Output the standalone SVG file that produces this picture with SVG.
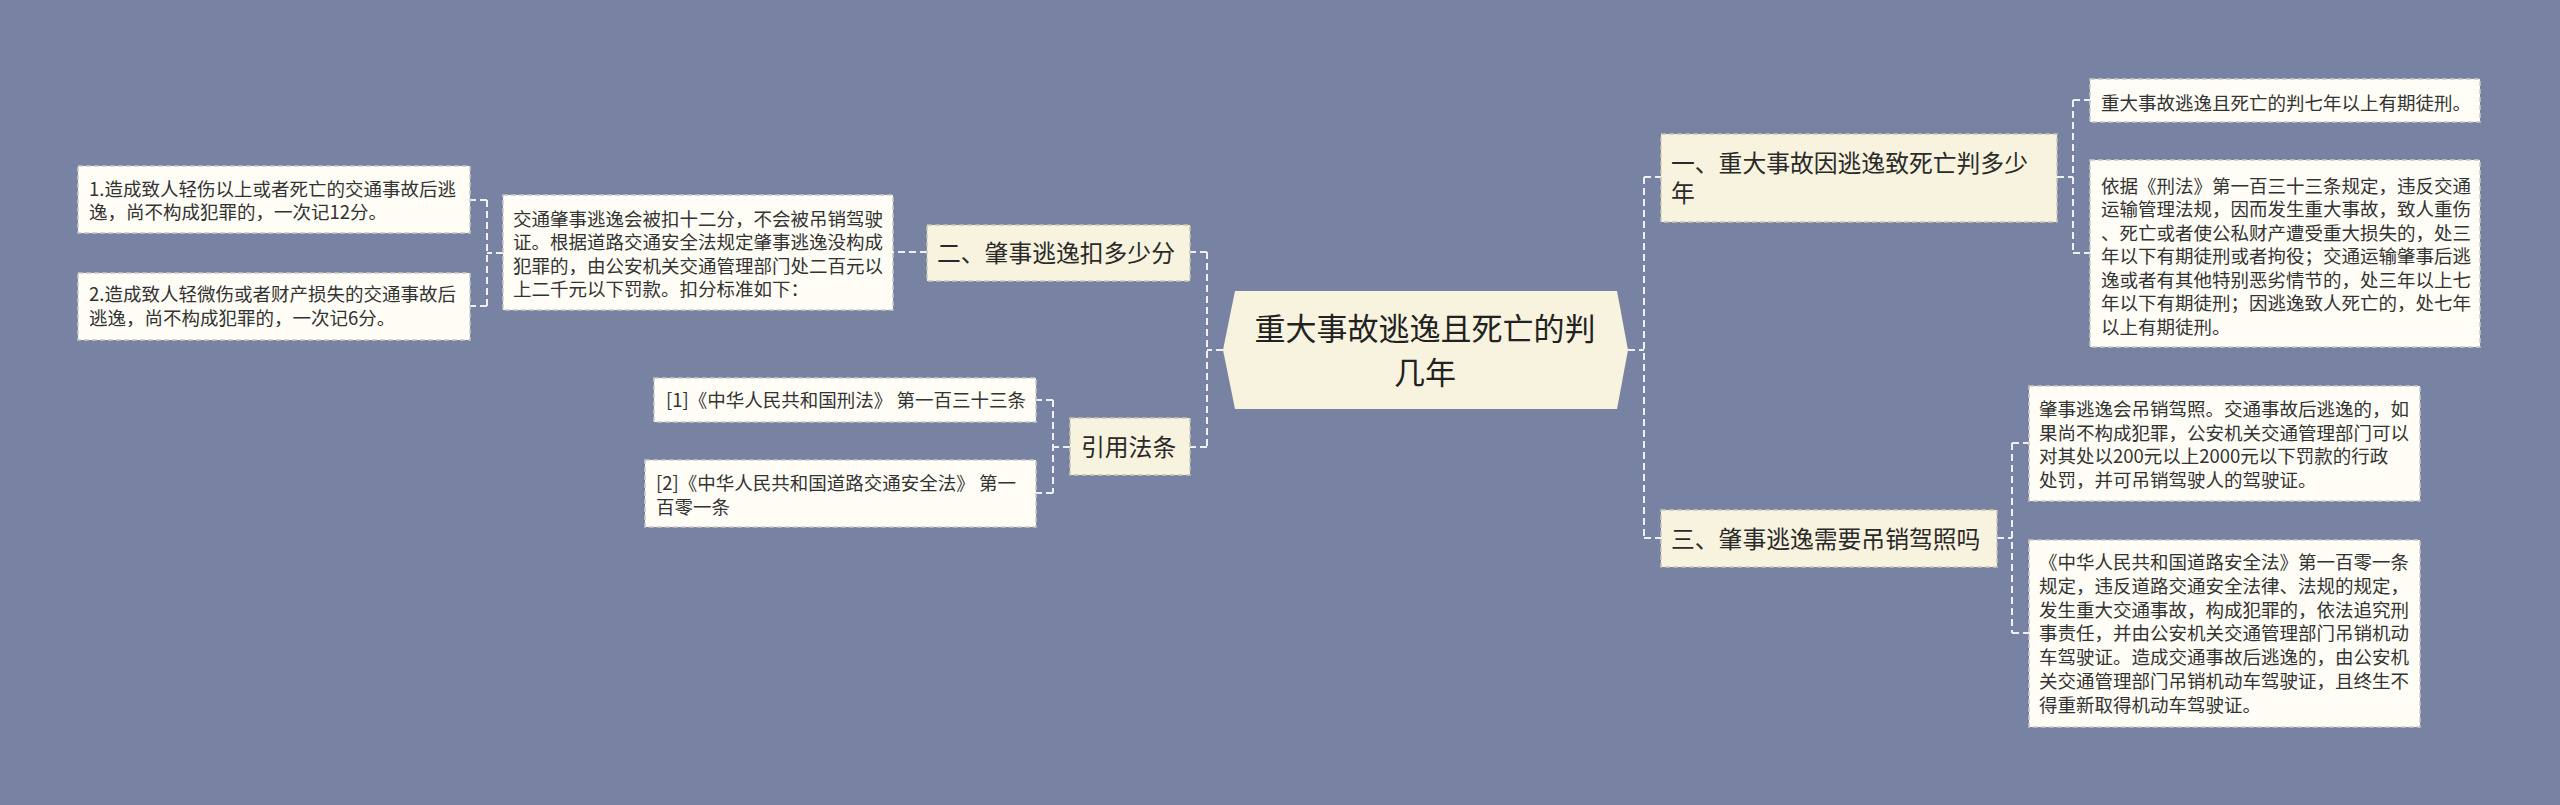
<svg xmlns="http://www.w3.org/2000/svg" width="2560" height="805" viewBox="0 0 2560 805">
<style>
.bg{fill:#7883a3}
.leaf rect{fill:#fffdf5;stroke:#c9c9c4;stroke-width:1.5;stroke-dasharray:5 3}
.topic rect{fill:#f8f3de;stroke:#c9c6b5;stroke-width:1.5;stroke-dasharray:5 3}
.leaf text{font-family:"Noto Sans CJK SC","Noto Sans",sans-serif;font-size:18.5px;fill:#333}
.topic text{font-family:"Noto Sans CJK SC","Noto Sans",sans-serif;font-size:23.8px;fill:#2a2a2a}
.center text{font-family:"Noto Sans CJK SC","Noto Sans",sans-serif;font-size:31px;fill:#222}
.conn path{fill:none;stroke:#eef0f5;stroke-width:2;stroke-dasharray:7 4}
</style>
<rect class="bg" x="0" y="0" width="2560" height="805"/>
<g class="conn" id="connectors">
<path d="M1223 350 H1207 M1207 252 V447 M1207 252 H1190 M1207 447 H1190"/>
<path d="M927 252 H893 M503 253 H487 M487 200 V306 M487 200 H470 M487 306 H470"/>
<path d="M1070 447 H1053 M1053 400 V493 M1053 400 H1036 M1053 493 H1036"/>
<path d="M1628 350 H1644 M1644 177 V538 M1644 177 H1661 M1644 538 H1661"/>
<path d="M2057 177 H2073 M2073 100 V253 M2073 100 H2090 M2073 253 H2090"/>
<path d="M1997 538 H2012 M2012 443 V633 M2012 443 H2029 M2012 633 H2029"/>
</g>
<g class="center" id="node-center">
<polygon points="1223,350 1235,291 1617,291 1628,350 1617,409 1235,409" fill="#f8f3de"/>
<text x="1425" y="340" text-anchor="middle">重大事故逃逸且死亡的判</text>
<text x="1425" y="384" text-anchor="middle">几年</text>
</g>
<g class="topic" id="node-2">
<rect x="927" y="225" width="263" height="56"/>
<text x="937" y="262">二、肇事逃逸扣多少分</text>
</g>
<g class="leaf" id="node-2-desc">
<rect x="503" y="195" width="390" height="115"/>
<text x="513" y="226">交通肇事逃逸会被扣十二分，不会被吊销驾驶</text>
<text x="513" y="249.4">证。根据道路交通安全法规定肇事逃逸没构成</text>
<text x="513" y="272.8">犯罪的，由公安机关交通管理部门处二百元以</text>
<text x="513" y="296.2">上二千元以下罚款。扣分标准如下：</text>
</g>
<g class="leaf" id="node-2-1">
<rect x="78" y="166" width="392" height="67"/>
<text x="89" y="196">1.造成致人轻伤以上或者死亡的交通事故后逃</text>
<text x="89" y="219">逸，尚不构成犯罪的，一次记12分。</text>
</g>
<g class="leaf" id="node-2-2">
<rect x="78" y="273" width="392" height="67"/>
<text x="89" y="301">2.造成致人轻微伤或者财产损失的交通事故后</text>
<text x="89" y="325">逃逸，尚不构成犯罪的，一次记6分。</text>
</g>
<g class="topic" id="node-law">
<rect x="1070" y="418" width="120" height="57"/>
<text x="1081" y="456">引用法条</text>
</g>
<g class="leaf" id="node-law-1">
<rect x="654" y="378" width="382" height="44"/>
<text x="666" y="407">[1]《中华人民共和国刑法》 第一百三十三条</text>
</g>
<g class="leaf" id="node-law-2">
<rect x="645" y="460" width="391" height="67"/>
<text x="656" y="490">[2]《中华人民共和国道路交通安全法》 第一</text>
<text x="656" y="514">百零一条</text>
</g>
<g class="topic" id="node-1">
<rect x="1661" y="134" width="396" height="88"/>
<text x="1671" y="172">一、重大事故因逃逸致死亡判多少</text>
<text x="1671" y="202">年</text>
</g>
<g class="leaf" id="node-1-1">
<rect x="2090" y="79" width="390" height="43"/>
<text x="2101" y="110">重大事故逃逸且死亡的判七年以上有期徒刑。</text>
</g>
<g class="leaf" id="node-1-2">
<rect x="2090" y="160" width="390" height="187"/>
<text x="2101" y="192.7">依据《刑法》第一百三十三条规定，违反交通</text>
<text x="2101" y="216.2">运输管理法规，因而发生重大事故，致人重伤</text>
<text x="2101" y="239.7">、死亡或者使公私财产遭受重大损失的，处三</text>
<text x="2101" y="263.2">年以下有期徒刑或者拘役；交通运输肇事后逃</text>
<text x="2101" y="286.7">逸或者有其他特别恶劣情节的，处三年以上七</text>
<text x="2101" y="310.2">年以下有期徒刑；因逃逸致人死亡的，处七年</text>
<text x="2101" y="333.7">以上有期徒刑。</text>
</g>
<g class="topic" id="node-3">
<rect x="1661" y="510" width="336" height="57"/>
<text x="1671" y="548">三、肇事逃逸需要吊销驾照吗</text>
</g>
<g class="leaf" id="node-3-1">
<rect x="2029" y="386" width="391" height="115"/>
<text x="2039" y="416">肇事逃逸会吊销驾照。交通事故后逃逸的，如</text>
<text x="2039" y="439.7">果尚不构成犯罪，公安机关交通管理部门可以</text>
<text x="2039" y="463.4">对其处以200元以上2000元以下罚款的行政</text>
<text x="2039" y="487.1">处罚，并可吊销驾驶人的驾驶证。</text>
</g>
<g class="leaf" id="node-3-2">
<rect x="2029" y="540" width="391" height="187"/>
<text x="2039" y="569">《中华人民共和国道路安全法》第一百零一条</text>
<text x="2039" y="592.8">规定，违反道路交通安全法律、法规的规定，</text>
<text x="2039" y="616.6">发生重大交通事故，构成犯罪的，依法追究刑</text>
<text x="2039" y="640.4">事责任，并由公安机关交通管理部门吊销机动</text>
<text x="2039" y="664.2">车驾驶证。造成交通事故后逃逸的，由公安机</text>
<text x="2039" y="688">关交通管理部门吊销机动车驾驶证，且终生不</text>
<text x="2039" y="711.8">得重新取得机动车驾驶证。</text>
</g>
</svg>
